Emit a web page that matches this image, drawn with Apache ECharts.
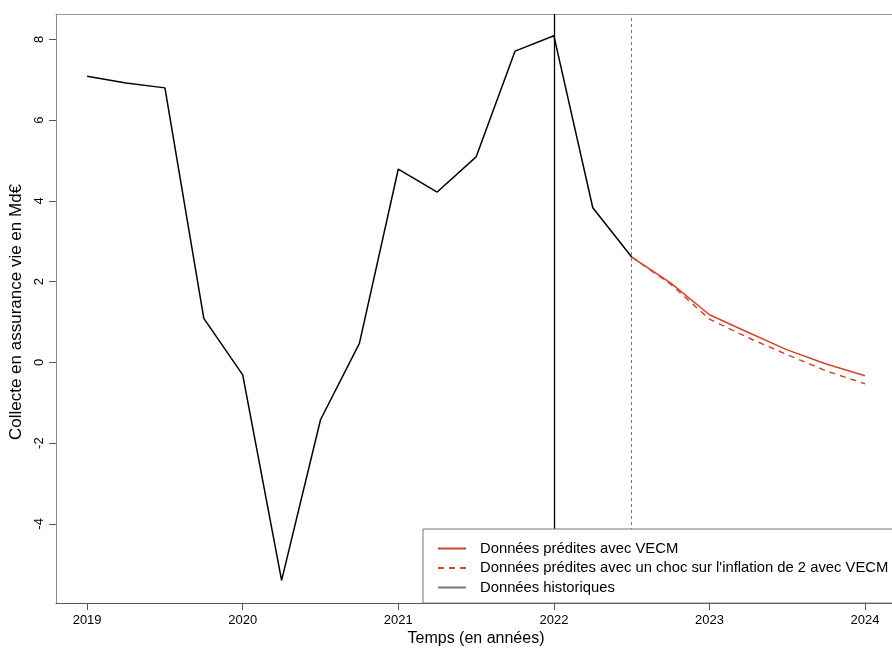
<!DOCTYPE html>
<html>
<head>
<meta charset="utf-8">
<script src="https://cdn.jsdelivr.net/npm/echarts@6/dist/echarts.min.js"></script>
<style>
  html, body { margin: 0; padding: 0; background: #fff; }
  #chart { width: 892px; height: 648px; }
</style>
</head>
<body>
<div id="chart"></div>
<script>
// Quarterly life-insurance net inflows (Md€), historical then forecast
const histTimes = [2019, 2019.25, 2019.5, 2019.75, 2020, 2020.25, 2020.5, 2020.75,
                   2021, 2021.25, 2021.5, 2021.75, 2022, 2022.25, 2022.5];
const histValues = [7.09, 6.92, 6.8, 1.09, -0.31, -5.4, -1.42, 0.47,
                    4.79, 4.22, 5.09, 7.71, 8.09, 3.83, 2.61];

const forecastTimes = [2022.5, 2022.75, 2023, 2023.25, 2023.5, 2023.75, 2024];
const forecastVecm  = [2.61, 1.97, 1.18, 0.74, 0.31, -0.04, -0.33];
const forecastShock = [2.61, 1.94, 1.07, 0.61, 0.19, -0.21, -0.53];

const xTicks = [2019, 2020, 2021, 2022, 2023, 2024];
const yTicks = [-4, -2, 0, 2, 4, 6, 8];

const nameVecm = 'Données prédites avec VECM';
const nameShock = "Données prédites avec un choc sur l'inflation de 2 avec VECM";
const nameHist = 'Données historiques';

const forecastStart = 2022.5;
const sampleEnd = 2022;

const zip = (xs, ys) => xs.map((x, i) => [x, ys[i]]);

const FONT = '"Liberation Sans", Arial, sans-serif';
const RED = '#d0452a';

// visible x range: the plot box runs a little past the right edge of the page
const X_MIN = 2018.8, X_MAX = 2024.173;

const chart = echarts.init(document.getElementById('chart'), null, { renderer: 'canvas' });

chart.setOption({
  animation: false,
  backgroundColor: '#fff',
  textStyle: { fontFamily: FONT },
  grid: { left: 56, top: 14, right: 0, bottom: 45, show: false },
  xAxis: [
    {
      type: 'value',
      min: X_MIN, max: X_MAX,
      splitLine: { show: false },
      axisLine: { show: true, onZero: false, lineStyle: { color: '#555', width: 1 } },
      axisTick: { show: true, length: 7, lineStyle: { color: '#555' }, customValues: xTicks },
      axisLabel: { customValues: xTicks, fontSize: 13, color: '#000', margin: 11, fontFamily: FONT,
                   formatter: v => String(Math.round(v)) }
    },
    {
      // top edge of the plot box
      type: 'value', position: 'top',
      min: X_MIN, max: X_MAX,
      splitLine: { show: false },
      axisLine: { show: true, onZero: false, lineStyle: { color: '#999', width: 1 } },
      axisTick: { show: false },
      axisLabel: { show: false }
    }
  ],
  yAxis: {
    type: 'value',
    min: -5.96, max: 8.63,
    splitLine: { show: false },
    axisLine: { show: true, onZero: false, lineStyle: { color: '#888', width: 1 } },
    axisTick: { show: true, length: 7, lineStyle: { color: '#555' }, customValues: yTicks },
    axisLabel: { customValues: yTicks, rotate: 90, fontSize: 13, color: '#000', margin: 10, fontFamily: FONT }
  },
  legend: {
    orient: 'vertical',
    left: 423, top: 529,
    z: 20,
    backgroundColor: '#fff',
    borderColor: '#777', borderWidth: 1,
    padding: [12, 12, 8, 14],
    itemWidth: 28, itemHeight: 14, itemGap: 4.5,
    itemStyle: { opacity: 0 },
    textStyle: { fontSize: 14.8, color: '#000', fontFamily: FONT, padding: [0, 0, 0, 9] },
    selectedMode: false,
    data: [
      { name: nameVecm },
      { name: nameShock },
      { name: nameHist, lineStyle: { color: '#777' } }
    ]
  },
  series: [
    {
      name: nameVecm, type: 'line', symbol: 'none', z: 2,
      color: RED, lineStyle: { color: RED, width: 1.5 },
      data: zip(forecastTimes, forecastVecm)
    },
    {
      name: nameShock, type: 'line', symbol: 'none', z: 2,
      color: RED, lineStyle: { color: RED, width: 1.5, type: [6, 5] },
      data: zip(forecastTimes, forecastShock)
    },
    {
      name: nameHist, type: 'line', symbol: 'none', z: 3,
      color: '#000', lineStyle: { color: '#000', width: 1.5 },
      data: zip(histTimes, histValues),
      markLine: {
        silent: true, symbol: ['none', 'none'], label: { show: false },
        data: [
          { xAxis: sampleEnd, lineStyle: { color: '#000', width: 1.3, type: 'solid' } },
          { xAxis: forecastStart, lineStyle: { color: '#777', width: 1, type: [3, 3] } }
        ]
      }
    }
  ],
  graphic: [
    {
      type: 'text', x: 476, y: 639, silent: true,
      style: { text: 'Temps (en années)', font: '16px ' + FONT, fill: '#000',
               textAlign: 'center', textVerticalAlign: 'middle' }
    },
    {
      type: 'text', x: 16, y: 312, rotation: Math.PI / 2, silent: true,
      style: { text: 'Collecte en assurance vie en Md€', font: '17px ' + FONT, fill: '#000',
               textAlign: 'center', textVerticalAlign: 'middle' }
    }
  ]
});
</script>
</body>
</html>
